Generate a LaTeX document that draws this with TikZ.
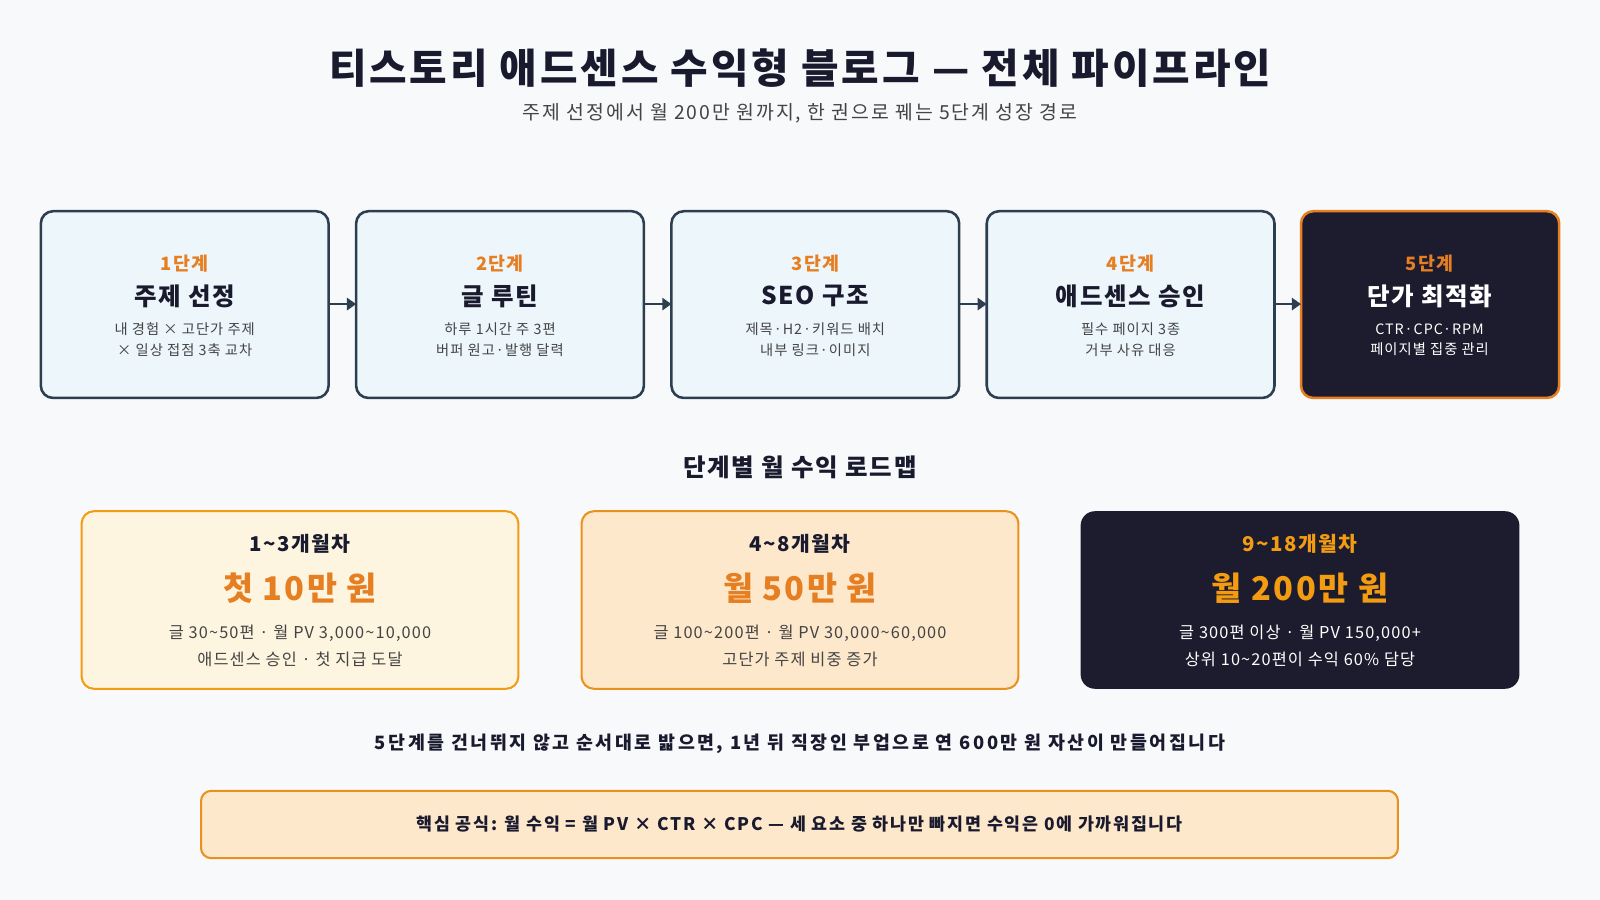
\documentclass[tikz,border=0pt]{standalone}
\usepackage{fontspec}
\setmainfont[LetterSpace=7]{Noto Sans CJK KR}
\newfontfamily\widefont[LetterSpace=14]{Noto Sans CJK KR}
\newfontfamily\midfont[LetterSpace=10]{Noto Sans CJK KR}
\usetikzlibrary{arrows.meta}
\definecolor{bg}{HTML}{F8F9FB}
\definecolor{navy}{HTML}{2C3E50}
\definecolor{ink}{HTML}{1A1A2E}
\definecolor{dark}{HTML}{1C1C2E}
\definecolor{org}{HTML}{E67E22}
\definecolor{gold}{HTML}{F39C12}
\definecolor{lblue}{HTML}{EDF6FB}
\definecolor{cream}{HTML}{FEF5E0}
\definecolor{peach}{HTML}{FDE8CC}
\definecolor{gry}{HTML}{444444}
\newcommand{\tl}{{\char"7E}}
\tikzset{
 stepbox/.style={draw=navy,line width=2.5pt,fill=lblue,rounded corners=12pt},
 lbl/.style={font=\bfseries\fontsize{18}{20}\selectfont,text=org},
 ttl/.style={font=\bfseries\fontsize{24}{28}\selectfont,text=ink},
 sub/.style={font=\fontsize{14}{20}\selectfont,text=gry,align=center},
 arr/.style={-{Triangle[length=9pt,width=12pt]},line width=2.5pt,navy},
 rh/.style={font=\bfseries\fontsize{20}{24}\selectfont,text=ink},
 rb/.style={font=\bfseries\fontsize{32}{36}\selectfont,text=org},
 rs/.style={font=\fontsize{16}{26}\selectfont,text=gry,align=center},
}
\begin{document}
\begin{tikzpicture}[x=1pt,y=-1pt]
\useasboundingbox[fill=bg] (0,0) rectangle (1568,882);
\node[font=\bfseries\fontsize{40}{44}\selectfont,text=ink] (t) at (784,67) {티스토리 애드센스 수익형 블로그 — 전체 파이프라인};
\node[font=\midfont\fontsize{19}{22}\selectfont,text=gry] (st) at (784,111) {주제 선정에서 월 200만 원까지, 한 권으로 꿰는 5단계 성장 경로};
% steps
\foreach \i/\xa/\xb/\n/\tt/\la/\lb in {
 1/40/322/1단계/주제 선정/내 경험 × 고단가 주제/× 일상 접점 3축 교차,
 2/349/631/2단계/글 루틴/하루 1시간 주 3편/버퍼 원고·발행 달력,
 3/658/940/3단계/SEO 구조/제목·H2·키워드 배치/내부 링크·이미지,
 4/967/1249/4단계/애드센스 승인/필수 페이지 3종/거부 사유 대응}{
 \draw[stepbox] (\xa,207) rectangle (\xb,390);
 \coordinate (s\i w) at (\xa,298); \coordinate (s\i e) at (\xb,298);
 \node[lbl] at ({(\xa+\xb)/2},258) {\n};
 \node[ttl] at ({(\xa+\xb)/2},290) {\tt};
 \node[sub] at ({(\xa+\xb)/2},333) {\la\\\lb};
}
\draw[stepbox,fill=dark,draw=org] (1275,207) rectangle (1528,390);
\coordinate (s5w) at (1275,298);
\node[lbl] at (1401,258) {5단계};
\node[ttl,text=white] at (1401,290) {단가 최적화};
\node[sub,text=white] at (1401,333) {CTR·CPC·RPM\\페이지별 집중 관리};
\draw[arr] (s1e) -- (s2w);
\draw[arr] (s2e) -- (s3w);
\draw[arr] (s3e) -- (s4w);
\draw[arr] (s4e) -- (s5w);
% roadmap
\node[font=\bfseries\fontsize{24}{28}\selectfont,text=ink] (rm) at (784,458) {단계별 월 수익 로드맵};
\draw[draw=gold,line width=2pt,fill=cream,rounded corners=12pt] (80,501) rectangle (508,675);
\draw[draw=org!85!yellow,line width=2pt,fill=peach,rounded corners=12pt] (570,501) rectangle (998,675);
\fill[dark,rounded corners=14pt] (1059,501) rectangle (1489,675);
\node[rh] (h1) at (294,533) {1\tl3개월차};
\node[rb] (b1) at (294,576) {첫 10만 원};
\node[rs] (l1) at (294,633) {글 30\tl50편 · 월 PV 3,000\tl10,000\\애드센스 승인 · 첫 지급 도달};
\node[rh] (h2) at (784,533) {4\tl8개월차};
\node[rb] (b2) at (784,576) {월 50만 원};
\node[rs] (l2) at (784,633) {글 100\tl200편 · 월 PV 30,000\tl60,000\\고단가 주제 비중 증가};
\node[rh,text=gold] (h3) at (1274,533) {9\tl18개월차};
\node[rb,text=gold] (b3) at (1274,576) {월 200만 원};
\node[rs,text=white] (l3) at (1274,633) {글 300편 이상 · 월 PV 150,000+\\상위 10\tl20편이 수익 60\% 담당};
\node[font=\widefont\bfseries\fontsize{18}{22}\selectfont,text=ink] (stm) at (784,729) {5단계를 건너뛰지 않고 순서대로 밟으면, 1년 뒤 직장인 부업으로 연 600만 원 자산이 만들어집니다};
\node[draw=org!85!yellow,line width=2pt,fill=peach,rounded corners=10pt,minimum width=1173pt,minimum height=66pt,font=\midfont\bfseries\fontsize{17}{20}\selectfont,text=ink] (f) at (783.5,808) {핵심 공식: 월 수익 = 월 PV × CTR × CPC — 세 요소 중 하나만 빠지면 수익은 0에 가까워집니다};
\end{tikzpicture}
\end{document}
